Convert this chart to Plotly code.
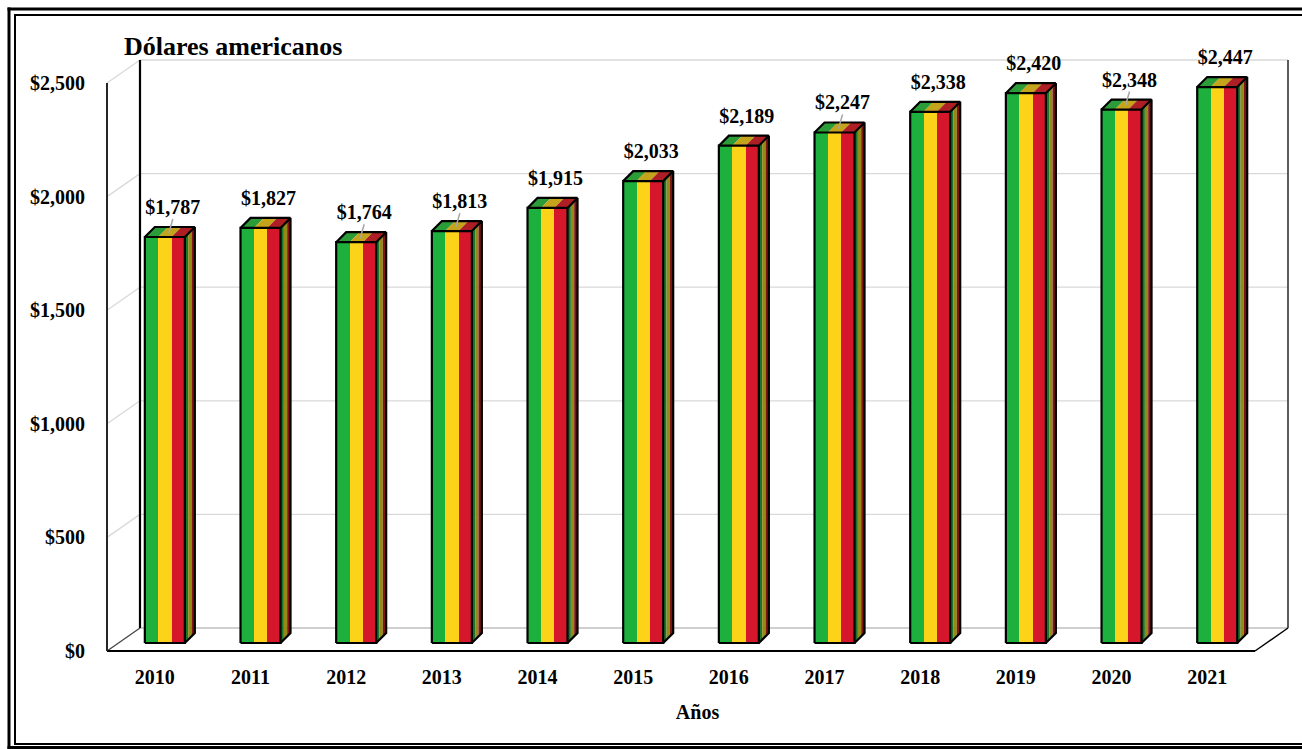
import plotly.graph_objects as go

# ---------------- data ----------------
years = ["2010", "2011", "2012", "2013", "2014", "2015",
         "2016", "2017", "2018", "2019", "2020", "2021"]
values = [1787, 1827, 1764, 1813, 1915, 2033, 2189, 2247, 2338, 2420, 2348, 2447]
value_labels = ["$1,787", "$1,827", "$1,764", "$1,813", "$1,915", "$2,033",
                "$2,189", "$2,247", "$2,338", "$2,420", "$2,348", "$2,447"]
leader_years = ["2010", "2012", "2013", "2017", "2020"]   # labels with leader lines
y_ticks = [0, 500, 1000, 1500, 2000, 2500]
y_tick_labels = ["$0", "$500", "$1,000", "$1,500", "$2,000", "$2,500"]

# ---------------- geometry (styles) ----------------
W, H = 1302, 749
ML, MR, MT, MB = 102, 9, 56, 94          # margins in px
UX = 95.67                                # px per category
UY = 0.2272                               # px per dollar
X0_PX, Y0_PX = 107, 651                   # pixel of (x=-0.5, y=0) on front plane

x_lo = -0.5 - (X0_PX - ML) / UX
x_hi = -0.5 + (W - MR - X0_PX) / UX
y_lo = -((H - MB) - Y0_PX) / UY
y_hi = (Y0_PX - MT) / UY

DX = 33 / UX
DY = 23 / UY
BW = 40 / UX
FX = 10 / UX
FY = 8 / UY
BX = 10 / UX
BYD = 10 / UY
LBL_DX = 18 / UX
LBL_DY = 28 / UY

x_left_wall = -0.5
x_right_wall = x_left_wall + 1181 / UX
y_top = y_ticks[-1]

front_cols = ["#1DB03C", "#FDD31A", "#D5162B"]
side_cols = ["#17762B", "#968A17", "#7E1618"]
top_cols = ["#2C9C38", "#C4A41A", "#AD1F25"]

FONT = "Liberation Serif"

idx = list(range(len(years)))

fig = go.Figure()

# ---- front faces (stripes) ----
for k in range(3):
    fig.add_trace(go.Bar(
        x=idx, y=values, base=FY,
        width=BW / 3, offset=FX - BW / 2 + k * BW / 3,
        marker=dict(color=front_cols[k], line=dict(width=0)),
        hoverinfo="skip", showlegend=False))

# ---- side and top faces ----
for k in range(3):
    a, b = k / 3, (k + 1) / 3
    sx, sy, tx, ty = [], [], [], []
    for i, v in zip(idx, values):
        xr = i + FX + BW / 2
        xl = i + FX - BW / 2
        yb = FY
        yt = v + FY
        sx += [xr + BX * a, xr + BX * b, xr + BX * b, xr + BX * a, None]
        sy += [yb + BYD * a, yb + BYD * b, yt + BYD * b, yt + BYD * a, None]
        x1 = xl + k * BW / 3
        x2 = xl + (k + 1) * BW / 3
        tx += [x1, x2, x2 + BX, x1 + BX, None]
        ty += [yt, yt, yt + BYD, yt + BYD, None]
    fig.add_trace(go.Scatter(x=sx, y=sy, mode="none", fill="toself",
                             fillcolor=side_cols[k], hoverinfo="skip",
                             showlegend=False))
    fig.add_trace(go.Scatter(x=tx, y=ty, mode="none", fill="toself",
                             fillcolor=top_cols[k], hoverinfo="skip",
                             showlegend=False))

# ---- outlines ----
ox, oy = [], []
for i, v in zip(idx, values):
    xr = i + FX + BW / 2
    xl = i + FX - BW / 2
    yb = FY
    yt = v + FY
    ox += [xl, xr, xr, xl, xl, None]
    oy += [yb, yb, yt, yt, yb, None]
    ox += [xr, xr + BX, xr + BX, xr, None]
    oy += [yb, yb + BYD, yt + BYD, yt, None]
    ox += [xl, xl + BX, xr + BX, None]
    oy += [yt, yt + BYD, yt + BYD, None]
fig.add_trace(go.Scatter(x=ox, y=oy, mode="lines",
                         line=dict(color="black", width=2.2),
                         hoverinfo="skip", showlegend=False, cliponaxis=False))

# ---- leader lines ----
lx, ly = [], []
for i, v, yr in zip(idx, values, years):
    if yr in leader_years:
        lx += [i + FX + BX * 0.4, i + LBL_DX, None]
        ly += [v + FY + BYD * 0.4, v + FY + LBL_DY - 10 / UY, None]
fig.add_trace(go.Scatter(x=lx, y=ly, mode="lines",
                         line=dict(color="#A6A6A6", width=1.5),
                         hoverinfo="skip", showlegend=False))

# ---- value labels ----
fig.add_trace(go.Scatter(
    x=[i + LBL_DX for i in idx],
    y=[v + FY + LBL_DY for v in values],
    mode="text", text=value_labels, textposition="middle center",
    textfont=dict(family=FONT, size=20, color="black"),
    texttemplate="<b>%{text}</b>",
    hoverinfo="skip", showlegend=False, cliponaxis=False))

# ---- walls, floor and gridlines ----
shapes = []
grey = "#D9D9D9"
for t in y_ticks:
    if t == 0:
        continue
    shapes.append(dict(type="line", xref="x", yref="y",
                       x0=x_left_wall + DX, y0=t + DY, x1=x_right_wall, y1=t + DY,
                       line=dict(color=grey, width=1.3), layer="below"))
    shapes.append(dict(type="line", xref="x", yref="y",
                       x0=x_left_wall, y0=t, x1=x_left_wall + DX, y1=t + DY,
                       line=dict(color=grey, width=1.3), layer="below"))
shapes.append(dict(type="line", xref="x", yref="y",
                   x0=x_left_wall + DX, y0=DY, x1=x_right_wall, y1=DY,
                   line=dict(color="#BFBFBF", width=1.5), layer="below"))
shapes.append(dict(type="line", xref="x", yref="y",
                   x0=x_left_wall, y0=0, x1=x_left_wall + DX, y1=DY,
                   line=dict(color="#404040", width=1.2), layer="below"))
shapes.append(dict(type="line", xref="x", yref="y",
                   x0=x_left_wall, y0=0, x1=x_right_wall - DX, y1=0,
                   line=dict(color="black", width=2), layer="below"))
shapes.append(dict(type="line", xref="x", yref="y",
                   x0=x_right_wall - DX, y0=0, x1=x_right_wall, y1=DY,
                   line=dict(color="black", width=1.5), layer="below"))
shapes.append(dict(type="line", xref="x", yref="y",
                   x0=x_left_wall, y0=0, x1=x_left_wall, y1=y_top,
                   line=dict(color="#262626", width=2), layer="below"))
shapes.append(dict(type="line", xref="x", yref="y",
                   x0=x_left_wall + DX, y0=DY, x1=x_left_wall + DX, y1=y_top + DY,
                   line=dict(color="black", width=2.2), layer="below"))
shapes.append(dict(type="line", xref="x", yref="y",
                   x0=x_right_wall, y0=DY, x1=x_right_wall, y1=y_top + DY,
                   line=dict(color="#262626", width=1.5), layer="below"))

# ---- outer double frame (paper coords, open to the right) ----
pw = W - ML - MR
ph = H - MT - MB


def px2paper_x(px):
    return (px - ML) / pw


def px2paper_y(py):
    return (H - MB - py) / ph


def hline(py, x0px, x1px, w):
    return dict(type="line", xref="paper", yref="paper",
                x0=px2paper_x(x0px), x1=px2paper_x(x1px),
                y0=px2paper_y(py), y1=px2paper_y(py),
                line=dict(color="black", width=w))


def vline(px, y0px, y1px, w):
    return dict(type="line", xref="paper", yref="paper",
                x0=px2paper_x(px), x1=px2paper_x(px),
                y0=px2paper_y(y0px), y1=px2paper_y(y1px),
                line=dict(color="black", width=w))


shapes += [hline(9, 7.5, W, 3), hline(747.5, 7.5, W, 3), vline(9, 7.5, 749, 3),
           hline(15, 14, W, 2), hline(744, 14, W, 2), vline(15, 14, 745, 2)]

fig.update_layout(
    width=W, height=H,
    margin=dict(l=ML, r=MR, t=MT, b=MB, pad=0),
    paper_bgcolor="white", plot_bgcolor="white",
    barmode="overlay", bargap=0,
    shapes=shapes,
    font=dict(family=FONT, color="black"),
    xaxis=dict(range=[x_lo, x_hi], tickvals=idx, ticktext=years,
               showgrid=False, zeroline=False, showline=False,
               ticks="outside", ticklen=4, tickcolor="rgba(0,0,0,0)",
               tickfont=dict(family=FONT, size=20, color="black", weight="bold"),
               title=dict(text="<b>Años</b>", standoff=17,
                          font=dict(family=FONT, size=20, color="black")),
               automargin=False, fixedrange=True),
    yaxis=dict(range=[y_lo, y_hi], tickvals=y_ticks, ticktext=y_tick_labels,
               showgrid=False, zeroline=False, showline=False,
               ticks="outside", ticklen=12, tickcolor="rgba(0,0,0,0)",
               tickfont=dict(family=FONT, size=20, color="black", weight="bold"),
               automargin=False, fixedrange=True),
    annotations=[dict(text="<b>Dólares americanos</b>", xref="paper", yref="paper",
                      x=px2paper_x(122), y=px2paper_y(46), xanchor="left",
                      yanchor="middle", showarrow=False,
                      font=dict(family=FONT, size=26, color="black"))],
)

fig.write_html("out.html",
               config={"displayModeBar": False},
               post_script="document.body.style.margin='0';"
                           "document.body.style.overflow='hidden';")
